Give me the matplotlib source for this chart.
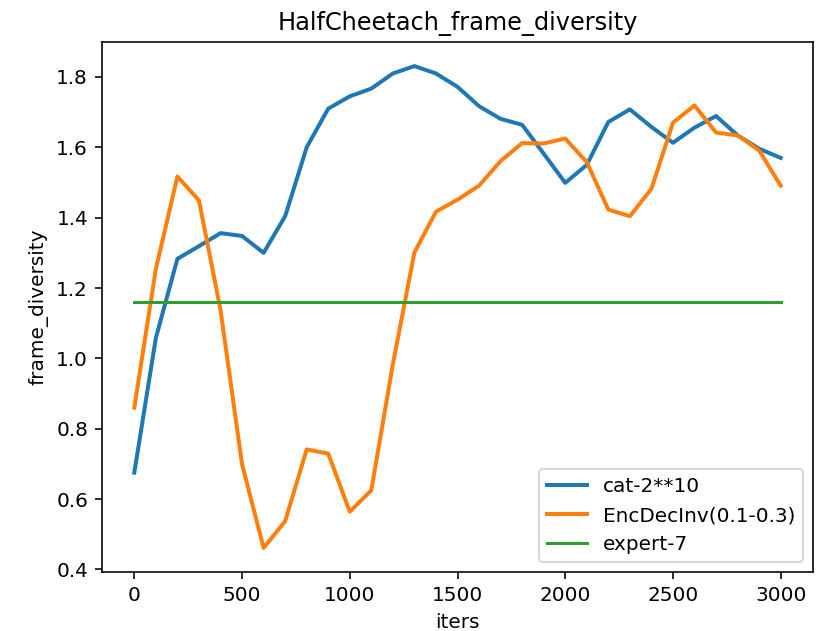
import matplotlib
matplotlib.use("Agg")
import matplotlib.pyplot as plt

iters = list(range(0, 3001, 100))
cat = [0.675, 1.058, 1.283, 1.319, 1.356, 1.348, 1.300, 1.404, 1.600, 1.710,
       1.745, 1.767, 1.810, 1.831, 1.810, 1.772, 1.717, 1.681, 1.664, 1.582,
       1.499, 1.550, 1.672, 1.708, 1.658, 1.613, 1.656, 1.689, 1.634, 1.596, 1.570]
encdec = [0.860, 1.254, 1.517, 1.449, 1.138, 0.699, 0.461, 0.537, 0.741, 0.729,
          0.564, 0.625, 0.983, 1.301, 1.417, 1.451, 1.491, 1.561, 1.612, 1.611,
          1.625, 1.558, 1.423, 1.404, 1.482, 1.670, 1.719, 1.642, 1.634, 1.591, 1.491]
expert = [1.161] * len(iters)

dpi = 144
fig = plt.figure(figsize=(823 / dpi, 631 / dpi), dpi=dpi)
ax = fig.add_axes([102 / 823, 1 - 572 / 631, (813 - 102) / 823, (572 - 42) / 631])
ax.plot(iters, cat, color="#1f77b4", lw=2, label="cat-2**10")
ax.plot(iters, encdec, color="#ff7f0e", lw=2, label="EncDecInv(0.1-0.3)")
ax.plot(iters, expert, color="#2ca02c", lw=1.5, label="expert-7")
ax.set_title("HalfCheetach_frame_diversity")
ax.set_xlabel("iters")
ax.set_ylabel("frame_diversity")
ax.legend(loc="lower right")
fig.savefig("out.png", dpi=dpi)
